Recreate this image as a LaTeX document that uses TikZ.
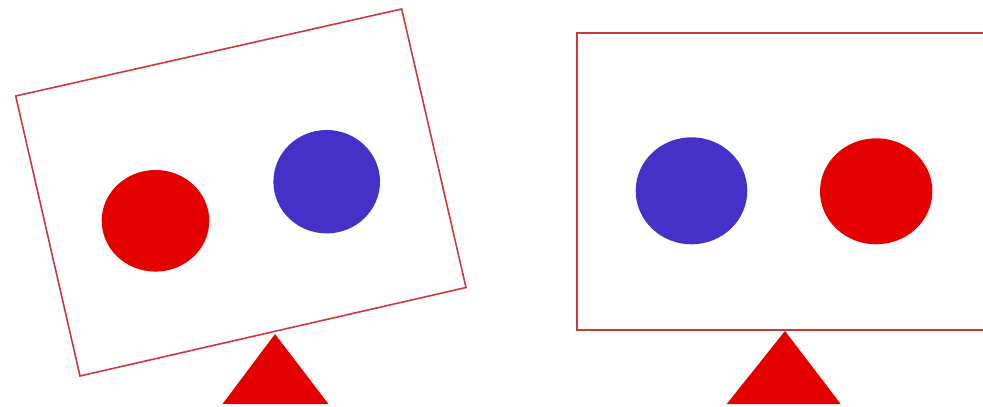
\documentclass[tikz,border=0pt]{standalone}
\definecolor{bred}{HTML}{E50000}
\definecolor{bblue}{HTML}{4530C8}
\definecolor{frame}{HTML}{CC3A3A}
\begin{document}
\begin{tikzpicture}[x=1pt,y=-1pt,
  frm/.style={draw=frame,line width=1.6pt,line join=miter},
  redball/.style={fill=bred},
  blueball/.style={fill=bblue},
  pivot/.style={fill=bred}]
\useasboundingbox[fill=white] (0,0) rectangle (983,407);
% left tilted scale
\draw[frm] (15.7,96) -- (401.7,9) -- (466,287.5) -- (80,376) -- cycle;
\fill[redball] (155.5,220.8) ellipse [x radius=53.8, y radius=50.8];
\fill[blueball] (326.7,181.7) ellipse [x radius=53.3, y radius=51.7];
\fill[pivot] (275,334) -- (328.5,404) -- (222.5,404) -- cycle;
% right level scale
\draw[frm] (990,32.7) -- (576.7,32.7) -- (576.7,330) -- (990,330);
\fill[blueball] (691.5,190.8) ellipse [x radius=55.8, y radius=53.5];
\fill[redball] (876.2,191.3) ellipse [x radius=56.2, y radius=53];
\fill[pivot] (785,331) -- (840.7,404) -- (726.7,404) -- cycle;
\end{tikzpicture}
\end{document}
